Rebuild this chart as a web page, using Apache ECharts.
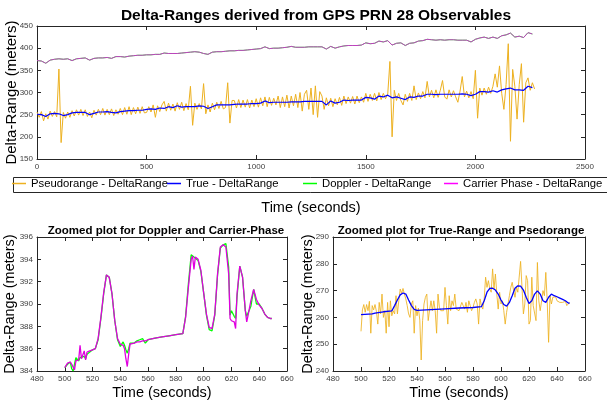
<!DOCTYPE html>
<html>
<head>
<meta charset="utf-8">
<script src="https://cdn.jsdelivr.net/npm/echarts@6/dist/echarts.min.js"></script>
<style>
html,body{margin:0;padding:0;background:#fff;}
#c{width:607px;height:404px;}
</style>
</head>
<body>
<div id="c"></div>
<script>
// ---------- DATA ----------
// Top plot: pseudorange sampled every 10 s from 0 s
const topPseudo = [
256,244,257,236,252,240,258,246,257,245,
353,187,255,242,256,244,259,247,261,249,
262,248,261,246,256,243,260,249,262,250,
264,249,262,250,263,248,261,251,264,250,
266,251,268,250,266,252,267,253,268,254,
255,268,256,272,244,270,257,272,280,258,
276,260,274,258,277,262,278,259,275,261,
314,226,276,262,275,263,320,252,272,256,
276,261,278,264,280,263,266,322,231,282,
282,265,284,266,283,267,284,265,283,268,
286,267,288,270,290,268,289,271,287,272,
292,266,290,268,294,265,292,270,296,266,
300,258,296,305,262,310,250,315,244,302,
292,262,288,270,287,268,286,272,289,271,
292,275,290,276,291,274,292,277,290,278,
298,280,296,282,298,281,300,284,298,286,
296,370,200,305,282,298,282,272,296,280,
298,282,315,284,299,286,302,288,325,290,
305,288,306,289,305,327,290,285,306,290,
304,290,278,303,336,290,303,288,302,286,
350,242,310,294,310,296,312,298,314,342,
312,360,298,262,318,410,190,352,314,240,
318,365,233,322,333,305,322,308
];
const topPseudoStep = 10;
// Top plot: true, doppler and carrier-phase sampled every 20 s from 0 s
const topTrue = [
251,250,246,252,253,252,248,250,254,255,
255,255,250,253,256,256,257,255,254,257,
258,259,259,260,260,262,263,262,265,264,
268,266,270,267,268,268,268,270,269,264,
268,272,272,272,272,273,274,274,274,275,
275,276,281,277,278,278,278,278,279,279,
279,280,280,280,280,280,272,281,276,278,
283,282,283,283,283,289,288,285,292,290,
294,288,290,287,284,290,289,292,292,296,
296,295,296,296,296,296,296,297,296,293,
296,302,302,301,304,301,306,308,310,306,
306,305,314,311
];
const topCarrier = [
372,371,366,373,375,376,375,376,372,376,
377,378,373,377,378,378,379,377,381,381,
380,382,383,384,384,385,385,386,386,389,
388,388,388,389,390,391,392,391,388,386,
391,392,392,393,394,394,395,395,396,397,
398,399,403,399,400,400,401,402,404,402,
402,402,403,403,403,403,398,404,400,403,
405,406,406,406,407,412,410,411,416,414,
417,407,411,412,406,411,412,416,417,420,
419,418,419,418,419,419,418,418,418,414,
420,423,425,422,425,422,428,430,434,425,
427,424,435,432
];
const topDoppler = topCarrier; // visually coincident with carrier phase
const topSlowStep = 20;

// Zoomed Doppler / Carrier-Phase plot
const dcTime = [500,502,504,505,506,507,508,510,511,512,514,515,516,518,520,522,524,526,528,530,531,532,534,536,538,540,542,543,544,545,546,547,548,550,552,554,556,558,560,565,570,575,580,585,587,589,591,592,593,594,596,598,600,602,604,606,608,610,612,614,616,618,619,620,621,622,623,624,626,628,630,631,632,634,636,638,640,642,644,646,648,649];
const zoomCarrier = [384.3,384.7,384.8,384.6,384.5,384.1,384.9,385.0,386.3,385.1,385.8,385.0,385.7,385.8,385.9,386.0,386.9,388.8,391.0,392.6,392.7,392.4,390.9,388.5,386.9,386.4,386.3,386.0,385.1,384.4,385.5,386.4,386.5,386.5,386.6,386.6,386.7,386.7,386.8,386.95,387.05,387.15,387.25,387.35,388.8,391.5,394.0,394.3,393.1,394.2,394.0,393.0,391.0,389.1,387.9,387.8,389.1,392.7,395.1,395.3,395.1,392.7,388.7,388.5,388.4,388.4,387.8,390.9,393.4,392.4,389.4,388.4,389.0,390.3,391.3,390.4,389.9,389.6,389.1,388.8,388.7,388.7];
const zoomDoppler = [384.3,384.6,384.8,384.2,384.0,384.1,385.2,384.9,385.2,385.3,385.3,385.1,385.5,385.7,385.9,386.0,386.8,388.7,390.9,392.6,392.7,392.4,390.9,388.5,386.8,386.2,386.6,386.3,385.9,385.6,386.0,386.5,386.4,386.5,386.7,386.8,386.9,386.5,386.8,386.95,387.05,387.15,387.25,387.35,388.9,391.8,394.4,394.5,394.2,394.1,393.9,392.9,391.0,389.0,387.7,387.6,389.0,392.6,395.0,395.3,395.4,393.3,389.0,389.4,389.3,388.9,388.7,390.6,393.4,392.4,389.4,388.9,388.9,389.8,391.3,390.0,390.0,389.6,389.1,388.8,388.7,388.7];

// Zoomed True-Range plot
const trueZoomTime = [500,508,510,516,522,524,526,528,530,532,534,536,538,540,550,560,570,580,586,588,590,592,594,596,598,600,602,604,606,608,610,612,614,616,618,620,622,624,626,628,630,632,634,636,638,640,642,644,646,648,649];
const trueZoom = [261.0,261.3,261.6,262.1,262.4,264.4,266.5,268.4,269.1,268.7,266.5,264.4,263.0,262.6,262.9,263.2,263.5,263.7,264.0,266.2,269.4,270.8,270.9,270.2,268.7,266.5,264.8,264.2,265.6,268.1,270.9,271.8,271.7,270.2,267.5,265.2,266.2,268.7,269.9,268.7,266.2,265.6,267.5,268.7,268.1,267.7,267.2,266.7,266.2,265.4,265.2];
// Zoomed pseudorange: one sample per second from 500 s
const pseudoZoomStart = 500;
const pseudoZoom = [
254.8,262.8,264.8,261.9,264.8,262.5,266.0,254.1,264.4,262.8,
264.8,262.3,257.5,265.6,261.3,268.7,260.0,262.5,254.1,265.6,
256.5,266.2,260.6,262.5,261.3,268.1,261.3,266.2,270.6,269.0,
270.8,268.7,266.9,264.4,261.3,260.0,265.0,266.2,254.1,264.4,
260.6,263.5,259.0,244.1,258.8,265.0,267.5,268.7,258.8,262.8,
266.2,262.5,266.2,262.5,254.1,268.7,263.8,262.5,263.1,262.5,
271.2,264.4,257.5,268.1,262.5,266.2,264.4,268.7,263.1,
263.8,262.5,263.1,265.6,264.4,263.1,265.6,261.9,
266.2,264.4,262.5,263.8,265.6,266.9,265.0,257.5,266.9,
264.4,263.1,266.9,275.0,271.2,273.7,270.6,269.4,278.1,270.6,
276.2,268.7,263.1,269.4,265.0,266.2,262.5,257.5,261.9,265.0,
268.1,271.2,273.1,270.0,267.5,271.2,269.4,270.0,280.9,271.2,
261.3,265.0,275.6,273.7,257.5,258.8,275.0,264.4,265.0,
258.8,280.5,266.2,262.5,266.2,270.0,268.1,276.8,266.2,250.7,
268.1,265.0,267.5,266.9,267.7,266.2,266.9,265.6,266.2,265.6,
265.6,266.0,264.4,265.0,265.6
];

// Legend entries (top plot)
const legendNames = ['Pseudorange - DeltaRange', 'True - DeltaRange', 'Doppler - DeltaRange', 'Carrier Phase - DeltaRange'];

// Tick settings
const topXTicks = {min:0, max:2500, interval:500};
const topYTicks = {min:150, max:450, interval:50};
const zoomXTicks = {min:480, max:660, interval:20};
const dcYTicks = {min:384, max:396, interval:2};
const prYTicks = {min:240, max:290, interval:10};

// ---------- CHART ----------
const FONT = 'Liberation Sans, Arial, Helvetica, sans-serif';
const AX = '#262626';
const C_OR = '#EDB120', C_BL = '#0000FF', C_GR = '#00FF00', C_MA = '#FF00FF';

const xAxes = [], yAxes = [];
function addAxes(gi, xt, yt, xName, xGap, yName, yFs, yGap){
  const base = {
    gridIndex: gi, type:'value',
    axisLine:{show:true, onZero:false, lineStyle:{color:AX, width:1}},
    axisTick:{show:true, inside:true, length:4, lineStyle:{color:AX}},
    splitLine:{show:false},
    axisLabel:{fontSize:8, color:'#404040', fontFamily:FONT, margin:4, showMinLabel:true, showMaxLabel:true,
      formatter:(v)=>String(v)}
  };
  xAxes.push(Object.assign({}, base, xt, {position:'bottom', name:xName, nameLocation:'middle', nameGap:xGap,
    nameMoveOverlap:false, nameTextStyle:{fontSize:14.5, color:'#000', fontFamily:FONT}}));
  xAxes.push(Object.assign({}, base, xt, {position:'top', axisLabel:{show:false}}));
  yAxes.push(Object.assign({}, base, yt, {position:'left', name:yName, nameLocation:'middle', nameGap:yGap,
    nameMoveOverlap:false, nameTextStyle:{fontSize:yFs, color:'#000', fontFamily:FONT}}));
  yAxes.push(Object.assign({}, base, yt, {position:'right', axisLabel:{show:false}}));
}
addAxes(0, topXTicks, topYTicks, 'Time (seconds)', 41, 'Delta-Range (meters)', 15, 18);
addAxes(1, zoomXTicks, dcYTicks, 'Time (seconds)', 14, 'Delta-Range (meters)', 14.5, 20);
addAxes(2, zoomXTicks, prYTicks, 'Time (seconds)', 14, 'Delta-Range (meters)', 14.5, 18);

function lineSeries(name, xi, yi, data, color, width, extra){
  return Object.assign({
    name, type:'line', xAxisIndex:xi, yAxisIndex:yi, data,
    showSymbol:false, symbol:'none', animation:false, silent:true,
    lineStyle:{color, width}, itemStyle:{color}, z:2
  }, extra||{});
}

const series = [
  lineSeries(legendNames[0], 0, 0, topPseudo.map((v,i)=>[i*topPseudoStep, v]), C_OR, 1),
  lineSeries(legendNames[1], 0, 0, topTrue.map((v,i)=>[i*topSlowStep, v]), C_BL, 1.2),
  lineSeries(legendNames[2], 0, 0, topDoppler.map((v,i)=>[i*topSlowStep, v]), C_GR, 1),
  lineSeries(legendNames[3], 0, 0, topCarrier.map((v,i)=>[i*topSlowStep, v]), C_MA, 1,
     {lineStyle:{color:C_MA, width:1, opacity:0.75}}),
  lineSeries('Doppler zoom', 2, 2, dcTime.map((t,i)=>[t, zoomDoppler[i]]), C_GR, 1.3),
  lineSeries('Carrier zoom', 2, 2, dcTime.map((t,i)=>[t, zoomCarrier[i]]), '#E000E0', 1.3),
  lineSeries('Pseudo zoom', 4, 4, pseudoZoom.map((v,i)=>[pseudoZoomStart+i, v]), C_OR, 1, {lineStyle:{color:C_OR, width:1, opacity:0.85}}),
  lineSeries('True zoom', 4, 4, trueZoomTime.map((t,i)=>[t, trueZoom[i]]), C_BL, 1.3)
];

// one legend component per entry, placed like the reference layout
const legendLefts = [12, 167, 303, 444];
const legends = legendNames.map((n, i) => ({
  left: legendLefts[i], top: 178, padding: 0, itemGap: 0, itemWidth: 14, itemHeight: 1.5, icon: 'rect',
  selectedMode: false, z: 5,
  textStyle: {fontSize: 11.3, color: '#000', fontFamily: FONT},
  data: [{name: n, itemStyle: {opacity: 1}}]
}));

const gridBase = {containLabel:false, outerBoundsMode:'none'};
const option = {
  backgroundColor:'#fff',
  animation:false,
  textStyle:{fontFamily:FONT},
  title:[
    {text:'Delta-Ranges derived from GPS PRN 28 Observables', left:311, top:3, textAlign:'center',
     textStyle:{fontSize:15.5, fontWeight:'bold', color:'#000', fontFamily:FONT}},
    {text:'Zoomed plot for Doppler and Carrier-Phase', left:161, top:220, textAlign:'center',
     textStyle:{fontSize:11.5, fontWeight:'bold', color:'#000', fontFamily:FONT}},
    {text:'Zoomed plot for True-Range and Psedorange', left:456, top:220, textAlign:'center',
     textStyle:{fontSize:11.5, fontWeight:'bold', color:'#000', fontFamily:FONT}}
  ],
  graphic:[
    {type:'rect', z:1, silent:true, shape:{x:13.5, y:177.5, width:620, height:15},
     style:{fill:'#fff', stroke:'#262626', lineWidth:1}}
  ],
  legend: legends,
  grid:[
    Object.assign({left:37, right:22, top:26, bottom:245}, gridBase),
    Object.assign({left:37, right:320, top:237, bottom:33}, gridBase),
    Object.assign({left:333, right:22, top:237, bottom:33}, gridBase)
  ],
  xAxis:xAxes,
  yAxis:yAxes,
  series
};
const chart = echarts.init(document.getElementById('c'), null, {renderer:'canvas'});
chart.setOption(option);
</script>
</body>
</html>
